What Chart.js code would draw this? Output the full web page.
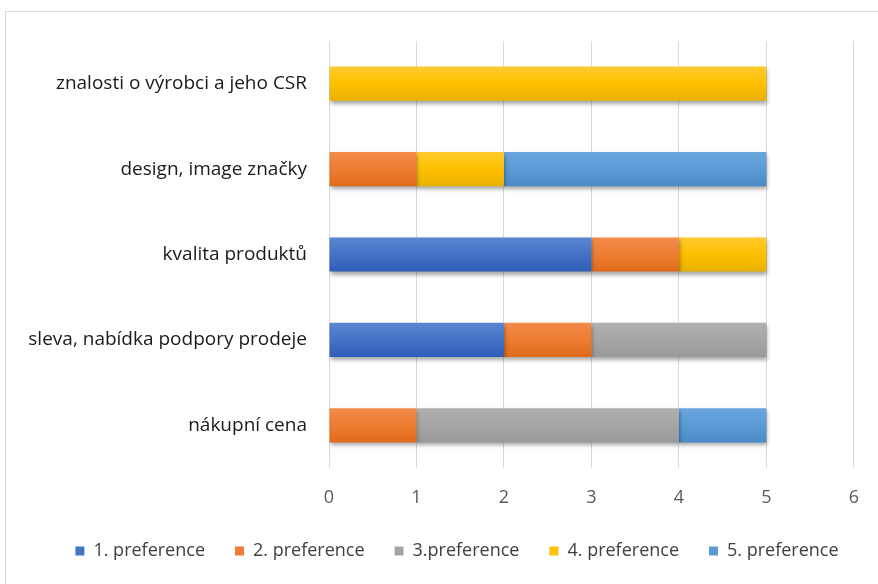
<!DOCTYPE html>
<html>
<head>
<meta charset="utf-8">
<script src="https://cdn.jsdelivr.net/npm/chart.js@4.4.1/dist/chart.umd.min.js"></script>
<style>
  html, body { margin: 0; padding: 0; background: #fff; }
  #wrap { position: relative; width: 878px; height: 584px; }
  #frame { position: absolute; left: 5px; top: 11px; width: 890px; height: 600px; border: 1px solid #d9d9d9; }
  canvas { position: absolute; left: 0; top: 0; }
</style>
</head>
<body>
<div id="wrap">
  <div id="frame"></div>
  <canvas id="prefChart" width="878" height="584"></canvas>
</div>
<script>
// horizontal stacked bars, Excel look
const categories = [
  "znalosti o výrobci a jeho CSR",
  "design, image značky",
  "kvalita produktů",
  "sleva, nabídka podpory prodeje",
  "nákupní cena"
];
const seriesNames = ["1. preference", "2. preference", "3.preference", "4. preference", "5. preference"];
const pref1 = [0, 0, 3, 2, 0];
const pref2 = [0, 1, 1, 1, 1];
const pref3 = [0, 0, 0, 2, 3];
const pref4 = [5, 1, 1, 0, 0];
const pref5 = [0, 3, 0, 0, 1];
const xTicks = [0, 1, 2, 3, 4, 5, 6];

const colors = ["#4472C4", "#ED7D31", "#A5A5A5", "#FFC000", "#5B9BD5"];
const lighter = ["#5A85D2", "#F28B4C", "#B0B0B0", "#FFCA2E", "#6AA6DE"];
const darker = ["#2F5EB8", "#E06A1A", "#999999", "#E8B000", "#4A8AC8"];

const fontFamily = "'Open Sans', sans-serif";

function barFill(i) {
  return function (context) {
    const chart = context.chart;
    const yScale = chart.scales.y;
    if (!yScale || context.dataIndex === undefined) return colors[i];
    const yc = yScale.getPixelForValue(context.dataIndex);
    const g = chart.ctx.createLinearGradient(0, yc - 17, 0, yc + 17);
    g.addColorStop(0, lighter[i]);
    g.addColorStop(0.5, colors[i]);
    g.addColorStop(1, darker[i]);
    return g;
  };
}

const shadowPlugin = {
  id: "barShadow",
  beforeDatasetDraw(chart) {
    const ctx = chart.ctx;
    ctx.save();
    ctx.shadowColor = "rgba(0,0,0,0.35)";
    ctx.shadowBlur = 4;
    ctx.shadowOffsetX = 1;
    ctx.shadowOffsetY = 3;
  },
  afterDatasetDraw(chart) {
    chart.ctx.restore();
  }
};

// legend in the original sits a bit right of centre
const legendShift = {
  id: "legendShift",
  afterLayout(chart) {
    if (chart.legend) {
      chart.legend.left += 25;
      chart.legend.right += 25;
    }
  }
};

const allSeries = [pref1, pref2, pref3, pref4, pref5];

new Chart(document.getElementById("prefChart"), {
  type: "bar",
  data: {
    labels: categories,
    datasets: allSeries.map((vals, i) => ({
      label: seriesNames[i],
      data: vals,
      backgroundColor: barFill(i),
      borderWidth: 0,
      categoryPercentage: 1,
      barPercentage: 0.4
    }))
  },
  options: {
    indexAxis: "y",
    responsive: false,
    animation: false,
    layout: { padding: { top: 41, right: 14, left: 0, bottom: 14 } },
    scales: {
      x: {
        stacked: true,
        min: 0,
        max: 6,
        ticks: {
          stepSize: 1,
          color: "#595959",
          padding: 19,
          font: { family: fontFamily, size: 18 },
          callback: (v) => (xTicks.includes(v) ? String(v) : "")
        },
        grid: { color: "#d9d9d9", drawTicks: false },
        border: { display: false },
        afterFit(scale) { scale.height = 44; }
      },
      y: {
        stacked: true,
        ticks: {
          color: "#1a1a1a",
          padding: 22,
          font: { family: fontFamily, size: 19 }
        },
        grid: { display: false, drawTicks: false },
        border: { display: false },
        afterFit(scale) { scale.width = 329; }
      }
    },
    plugins: {
      legend: {
        position: "bottom",
        labels: {
          color: "#404040",
          font: { family: fontFamily, size: 18 },
          boxWidth: 9,
          boxHeight: 9,
          padding: 30,
          generateLabels(chart) {
            return chart.data.datasets.map((ds, i) => ({
              text: ds.label,
              fillStyle: colors[i],
              strokeStyle: colors[i],
              lineWidth: 0,
              datasetIndex: i,
              fontColor: "#404040"
            }));
          }
        }
      },
      tooltip: { enabled: false }
    }
  },
  plugins: [shadowPlugin, legendShift]
});
</script>
</body>
</html>
